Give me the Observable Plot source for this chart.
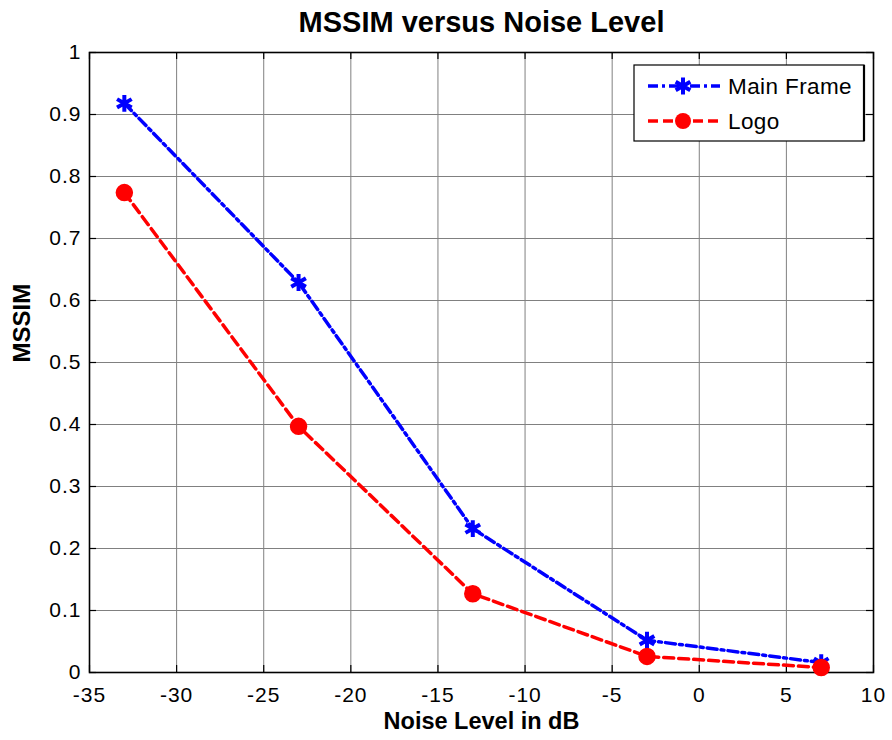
<!DOCTYPE html>
<html>
<head>
<meta charset="utf-8">
<script src="https://cdn.jsdelivr.net/npm/d3@7"></script>
<script src="https://cdn.jsdelivr.net/npm/@observablehq/plot@0.6"></script>
<style>
  html, body { margin: 0; padding: 0; background: white; }
</style>
</head>
<body>
<div id="chart"></div>
<script>
// ---- data ----
const noiseLevels = [-33, -23, -13, -3, 7];
const mainFrame = [0.918, 0.629, 0.232, 0.052, 0.016];
const logo = [0.774, 0.397, 0.127, 0.026, 0.008];
const seriesNames = ["Main Frame", "Logo"];
const xTicks = [-35, -30, -25, -20, -15, -10, -5, 0, 5, 10];
const yTicks = [0, 0.1, 0.2, 0.3, 0.4, 0.5, 0.6, 0.7, 0.8, 0.9, 1];
const titleText = "MSSIM versus Noise Level";
const xLabel = "Noise Level in dB";
const yLabel = "MSSIM";

const mainData = noiseLevels.map((x, i) => ({x, y: mainFrame[i]}));
const logoData = noiseLevels.map((x, i) => ({x, y: logo[i]}));

const W = 892, H = 740;
const mL = 89, mR = 19, mT = 52, mB = 68;
const innerW = W - mL - mR, innerH = H - mT - mB;
const tickLen = 7;
const font = "'Liberation Sans', Arial, sans-serif";

const chart = Plot.plot({
  width: W,
  height: H,
  marginLeft: mL,
  marginRight: mR,
  marginTop: mT,
  marginBottom: mB,
  style: {fontFamily: font, background: "white", color: "black"},
  x: {domain: [-35, 10]},
  y: {domain: [0, 1]},
  marks: [
    Plot.gridX(xTicks, {stroke: "#808080", strokeOpacity: 1, strokeWidth: 1}),
    Plot.gridY(yTicks, {stroke: "#808080", strokeOpacity: 1, strokeWidth: 1}),
    Plot.tickX(xTicks, {x: d => d, insetTop: innerH - tickLen, stroke: "black", strokeWidth: 1.2}),
    Plot.tickX(xTicks, {x: d => d, insetBottom: innerH - tickLen, stroke: "black", strokeWidth: 1.2}),
    Plot.tickY(yTicks, {y: d => d, insetRight: innerW - tickLen, stroke: "black", strokeWidth: 1.2}),
    Plot.tickY(yTicks, {y: d => d, insetLeft: innerW - tickLen, stroke: "black", strokeWidth: 1.2}),
    Plot.frame({stroke: "black", strokeWidth: 1.6}),
    Plot.line(mainData, {x: "x", y: "y", stroke: "#0000ff", strokeWidth: 3.5, strokeDasharray: "10,4,3,4"}),
    Plot.line(logoData, {x: "x", y: "y", stroke: "#ff0000", strokeWidth: 3.5, strokeDasharray: "10,5"}),
    Plot.dot(mainData, {x: "x", y: "y", symbol: "asterisk", r: 8, stroke: "#0000ff", strokeWidth: 4}),
    Plot.dot(logoData, {x: "x", y: "y", r: 8, fill: "#ff0000", stroke: "#ff0000"}),
    Plot.axisX({ticks: xTicks, tickSize: 0, tickPadding: 15, fontSize: 21, label: null, tickFormat: d => String(d)}),
    Plot.axisY({ticks: yTicks, tickSize: 0, tickPadding: 8, fontSize: 21, label: null, tickFormat: d => String(d)}),
    Plot.text([titleText], {text: d => d, frameAnchor: "top", dy: -30, fontSize: 29, fontWeight: "bold", lineAnchor: "middle"}),
    Plot.text([xLabel], {text: d => d, frameAnchor: "bottom", dy: 49, fontSize: 23.5, fontWeight: "bold", lineAnchor: "middle"}),
    Plot.text([yLabel], {text: d => d, frameAnchor: "left", dx: -67, rotate: -90, fontSize: 24, fontWeight: "bold", lineAnchor: "middle"})
  ]
});

document.getElementById("chart").appendChild(chart);

const svg = d3.select(chart);
svg.selectAll('g[aria-label="x-axis tick label"] text, g[aria-label="y-axis tick label"] text').style("letter-spacing", "1px");

// ---- legend ----
const lg = svg.append("g").attr("font-family", font).attr("text-anchor", "start");
const bx = 634, by = 65, bw = 230, bh = 76;
lg.append("rect").attr("x", bx).attr("y", by).attr("width", bw).attr("height", bh)
  .attr("fill", "white").attr("stroke", "black").attr("stroke-width", 1.2);
lg.append("line").attr("x1", bx + bw).attr("x2", bx + bw).attr("y1", by).attr("y2", by + bh)
  .attr("stroke", "black").attr("stroke-width", 2.2);
const entries = [
  {name: seriesNames[0], color: "#0000ff", dash: "10,4,3,4", y: by + 21, marker: "asterisk"},
  {name: seriesNames[1], color: "#ff0000", dash: "10,5", y: by + 56, marker: "circle"}
];
entries.forEach(e => {
  lg.append("line").attr("x1", 648).attr("x2", 720).attr("y1", e.y).attr("y2", e.y)
    .attr("stroke", e.color).attr("stroke-width", 3.5).attr("stroke-dasharray", e.dash);
  if (e.marker === "circle") {
    lg.append("circle").attr("cx", 683).attr("cy", e.y).attr("r", 8).attr("fill", e.color);
  } else {
    lg.append("path").attr("transform", `translate(683,${e.y})`)
      .attr("d", d3.symbol(d3.symbolAsterisk, 201)())
      .attr("stroke", e.color).attr("stroke-width", 4).attr("fill", "none");
  }
  lg.append("text").attr("x", 728).attr("y", e.y).attr("dy", "0.36em").attr("text-anchor", "start")
    .attr("font-size", 22.5).attr("letter-spacing", "0.4px").attr("fill", "black").text(e.name);
});
</script>
</body>
</html>
